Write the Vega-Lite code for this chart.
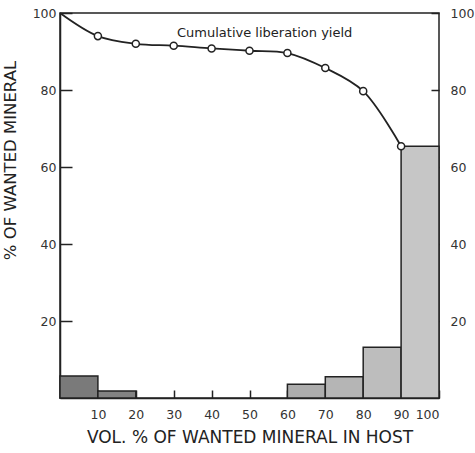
{
  "$schema": "https://vega.github.io/schema/vega-lite/v6.json",
  "width": 379,
  "height": 385,
  "autosize": "none",
  "padding": {"left": 60, "top": 13, "right": 36, "bottom": 55},
  "background": "white",
  "config": {
    "view": {"stroke": "#222", "strokeWidth": 1.5},
    "font": "DejaVu Sans",
    "axis": {
      "grid": false,
      "labelFont": "DejaVu Sans",
      "labelFontSize": 12.5,
      "labelColor": "#333",
      "domainColor": "#222",
      "domainWidth": 1.5,
      "tickColor": "#222",
      "tickWidth": 1.5,
      "titleFont": "DejaVu Sans",
      "titleColor": "#222",
      "titleFontWeight": "normal"
    }
  },
  "datasets": {
    "bars": [
      {"from": 0, "to": 10, "pct": 5.7},
      {"from": 10, "to": 20, "pct": 1.8},
      {"from": 60, "to": 70, "pct": 3.6},
      {"from": 70, "to": 80, "pct": 5.5},
      {"from": 80, "to": 90, "pct": 13.2},
      {"from": 90, "to": 100, "pct": 65.4}
    ],
    "curve": [
      {"vol": 0, "yield": 100},
      {"vol": 10, "yield": 94.0},
      {"vol": 20, "yield": 92.0},
      {"vol": 30, "yield": 91.5},
      {"vol": 40, "yield": 90.8},
      {"vol": 50, "yield": 90.2},
      {"vol": 60, "yield": 89.6},
      {"vol": 70, "yield": 85.7},
      {"vol": 80, "yield": 79.7},
      {"vol": 90, "yield": 65.4}
    ],
    "label": [
      {"vol": 54, "yield": 94.8, "text": "Cumulative liberation yield"}
    ]
  },
  "layer": [
    {
      "data": {"name": "bars"},
      "mark": {"type": "rect", "stroke": "#222", "strokeWidth": 1.5},
      "encoding": {
        "x": {
          "field": "from", "type": "quantitative",
          "scale": {"domain": [0, 100], "nice": false},
          "axis": {
            "values": [10, 20, 30, 40, 50, 60, 70, 80, 90, 100],
            "tickSize": -8,
            "labelPadding": 18,
            "title": "VOL. % OF WANTED MINERAL IN HOST",
            "titleFontSize": 17,
            "titlePadding": 9
          }
        },
        "x2": {"field": "to"},
        "y": {
          "field": "pct", "type": "quantitative",
          "scale": {"domain": [0, 100], "nice": false},
          "axis": {
            "orient": "left",
            "values": [20, 40, 60, 80, 100],
            "tickSize": -12,
            "labelPadding": 16,
            "title": "% OF WANTED MINERAL",
            "titleFontSize": 16.5,
            "titleX": -42,
            "titleY": 147
          }
        },
        "y2": {"datum": 0},
        "color": {
          "field": "from", "type": "quantitative",
          "scale": {"domain": [0, 90], "range": ["#7a7a7a", "#c6c6c6"]},
          "legend": null
        }
      }
    },
    {
      "data": {"name": "curve"},
      "mark": {"type": "line", "interpolate": "catmull-rom", "color": "#222", "strokeWidth": 1.8},
      "encoding": {
        "x": {"field": "vol", "type": "quantitative"},
        "y": {
          "field": "yield", "type": "quantitative",
          "axis": {
            "orient": "right",
            "values": [20, 40, 60, 80, 100],
            "tickSize": -8,
            "labelPadding": 19,
            "domain": false,
            "title": null
          }
        }
      }
    },
    {
      "data": {"name": "curve"},
      "transform": [{"filter": "datum.vol > 0"}],
      "mark": {"type": "point", "shape": "circle", "filled": true, "fill": "white", "stroke": "#222", "strokeWidth": 1.5, "size": 50, "opacity": 1},
      "encoding": {
        "x": {"field": "vol", "type": "quantitative"},
        "y": {"field": "yield", "type": "quantitative", "axis": null}
      }
    },
    {
      "data": {"name": "label"},
      "mark": {"type": "text", "font": "DejaVu Sans", "fontSize": 13, "color": "#222", "align": "center", "baseline": "middle"},
      "encoding": {
        "x": {"field": "vol", "type": "quantitative"},
        "y": {"field": "yield", "type": "quantitative", "axis": null},
        "text": {"field": "text"}
      }
    }
  ],
  "resolve": {"axis": {"y": "independent"}}
}
